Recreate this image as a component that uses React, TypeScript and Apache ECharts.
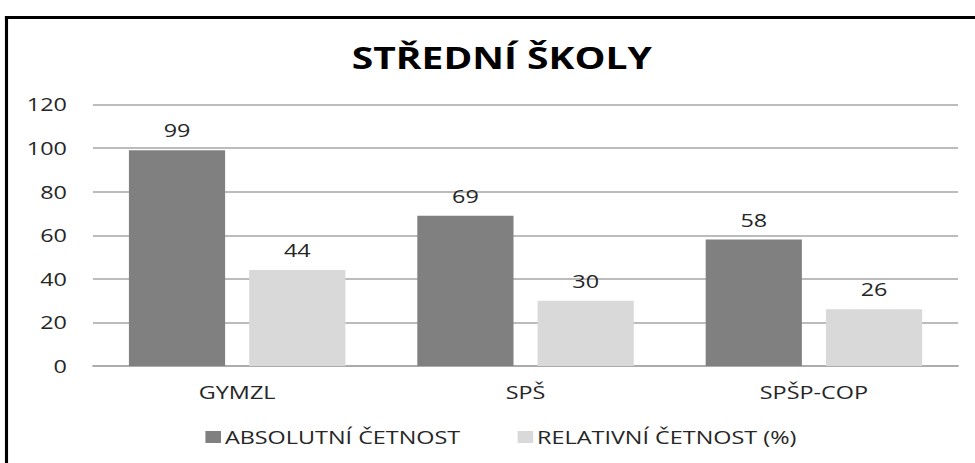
import React, { useEffect, useRef } from "react";
import * as echarts from "echarts";

const categories = ["GYMZL", "SPŠ", "SPŠP-COP"];
const absolutni = [99, 69, 58];
const relativni = [44, 30, 26];
const seriesNames = ["ABSOLUTNÍ ČETNOST", "RELATIVNÍ ČETNOST (%)"];
const titleText = "STŘEDNÍ ŠKOLY";

// The reference renders its texts horizontally stretched; the chart is drawn
// narrower and stretched by CSS to reproduce that look.
const STRETCH = 1.3;
const W = 975 / STRETCH;
const H = 463;

export default function App() {
  const ref = useRef<HTMLDivElement>(null);
  useEffect(() => {
    if (!ref.current) return;
    const chart = echarts.init(ref.current, null, { renderer: "svg" });
    const font = "'Open Sans', sans-serif";
    const txt = "#262626";
    chart.setOption({
      animation: false,
      backgroundColor: "#ffffff",
      title: {
        text: titleText,
        left: 381,
        textAlign: "center",
        top: 37,
        textStyle: { fontFamily: font, fontSize: 30, fontWeight: "bold", color: "#000" },
      },
      legend: {
        top: 423,
        left: 153,
        itemWidth: 12,
        itemHeight: 12,
        itemGap: 44,
        icon: "rect",
        textStyle: { fontFamily: font, fontSize: 18, color: txt, padding: [0, 0, 0, -2] },
        data: seriesNames,
      },
      grid: { left: 71.5, right: 13, top: 104.5, bottom: 97 },
      xAxis: {
        type: "category",
        data: categories,
        axisTick: { show: false },
        axisLine: { lineStyle: { color: "#a6a6a6", width: 1.5 } },
        axisLabel: { fontFamily: font, fontSize: 18, color: txt, margin: 17 },
      },
      yAxis: {
        type: "value",
        min: 0,
        max: 120,
        interval: 20,
        axisLine: { show: false },
        axisTick: { show: false },
        splitLine: { lineStyle: { color: "#a6a6a6", width: 1.5 } },
        axisLabel: { fontFamily: font, fontSize: 18, color: txt, margin: 20 },
      },
      series: [
        {
          name: seriesNames[0],
          type: "bar",
          data: absolutni,
          barWidth: 74,
          barGap: "25%",
          itemStyle: { color: "#808080" },
          label: { show: true, position: "top", distance: 11, fontFamily: font, fontSize: 18, color: txt },
        },
        {
          name: seriesNames[1],
          type: "bar",
          data: relativni,
          barWidth: 74,
          barGap: "25%",
          itemStyle: { color: "#d9d9d9" },
          label: { show: true, position: "top", distance: 11, fontFamily: font, fontSize: 18, color: txt },
        },
      ],
      graphic: [
        { type: "rect", shape: { x: 3.8, y: 16, width: W, height: 3 }, style: { fill: "#000" } },
        { type: "rect", shape: { x: 3.8, y: 16, width: 2.4, height: H - 16 }, style: { fill: "#000" } },
      ],
    });
    return () => chart.dispose();
  }, []);
  return (
    <div style={{ position: "absolute", left: 0, top: 0, width: 975, height: H, overflow: "hidden", background: "#fff" }}>
      <div
        ref={ref}
        style={{
          width: W,
          height: H,
          transform: `scaleX(${STRETCH})`,
          transformOrigin: "0 0",
        }}
      />
    </div>
  );
}
